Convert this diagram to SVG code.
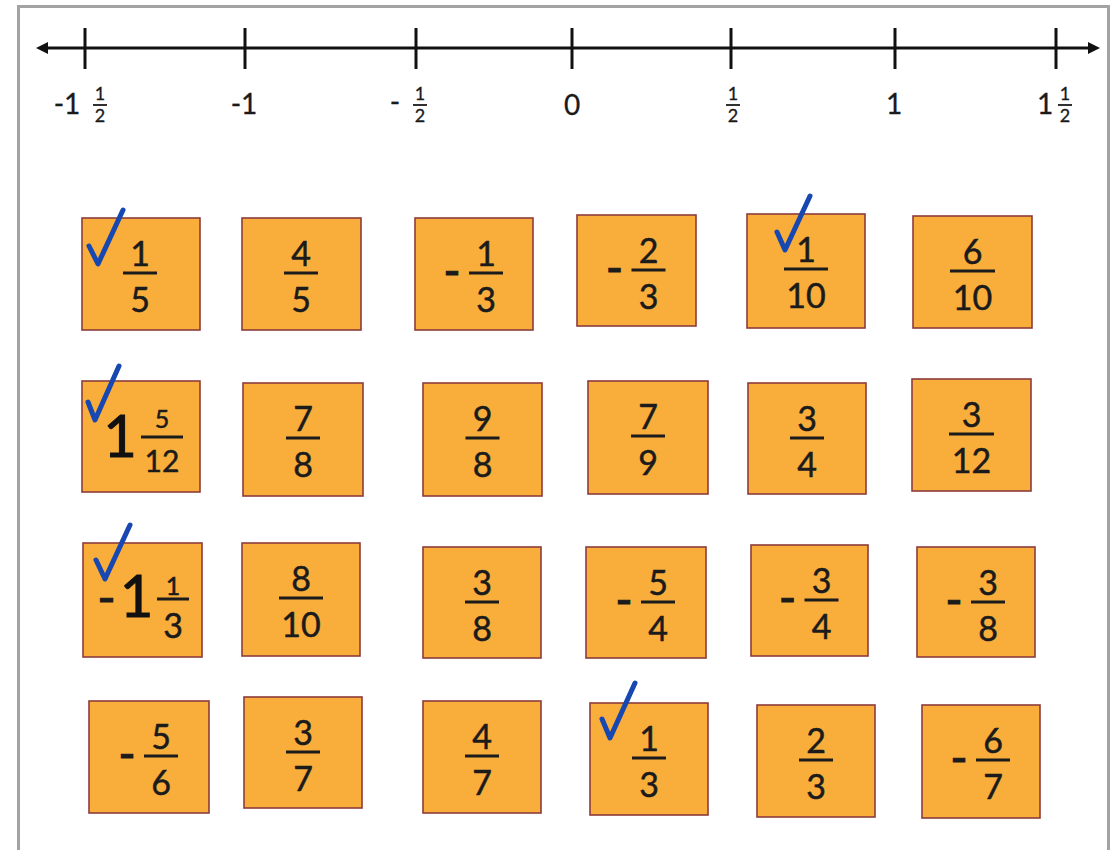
<svg xmlns="http://www.w3.org/2000/svg" width="1117" height="850" viewBox="0 0 1117 850">
<defs>
<style>
.frame{fill:#fff;stroke:#a3a3a3;stroke-width:3}
.axis{stroke:#111;stroke-width:3}
.tick{stroke:#111;stroke-width:3}
.lab{font-family:Lato,"Open Sans",sans-serif;font-size:28px;fill:#1a1a1a;text-anchor:middle;stroke:#1a1a1a;stroke-width:0.3}
.labs{font-family:Lato,"Open Sans",sans-serif;font-size:18px;fill:#1a1a1a;text-anchor:middle;stroke:#1a1a1a;stroke-width:0.3}
.lbar{stroke:#1a1a1a;stroke-width:1.8}
.card rect{fill:#F9AE3C;stroke:#8E3B3B;stroke-width:1.6}
.n{font-family:Lato,"Open Sans",sans-serif;font-size:34px;fill:#1b1b1b;text-anchor:middle;stroke:#1b1b1b;stroke-width:0.5}
.big{font-family:Lato,"Open Sans",sans-serif;font-size:58px;fill:#111;text-anchor:middle;stroke:#111;stroke-width:1}
.sm{font-family:Lato,"Open Sans",sans-serif;font-size:25px;fill:#1b1b1b;text-anchor:middle;stroke:#1b1b1b;stroke-width:0.5}
.md{font-family:Lato,"Open Sans",sans-serif;font-size:30px;fill:#1b1b1b;text-anchor:middle;stroke:#1b1b1b;stroke-width:0.5}
.minus{font-family:Lato,"Open Sans",sans-serif;font-size:34px;font-weight:900;fill:#1b1b1b;text-anchor:middle;stroke:#1b1b1b;stroke-width:1}
.bar{stroke:#1b1b1b;stroke-width:3}
.chk{fill:none;stroke:#1747B0;stroke-width:5;stroke-linecap:round;stroke-linejoin:round}
</style>
</defs>
<rect class="frame" x="18.5" y="6.5" width="1090" height="900"/>
<g id="numberline">
<line class="axis" x1="44" y1="48" x2="1092" y2="48"/>
<polygon points="36,48 48,42 48,54" fill="#111"/>
<polygon points="1100,48 1088,42 1088,54" fill="#111"/>
<line class="tick" x1="85" y1="28" x2="85" y2="69"/>
<line class="tick" x1="245" y1="28" x2="245" y2="69"/>
<line class="tick" x1="416" y1="28" x2="416" y2="69"/>
<line class="tick" x1="572" y1="28" x2="572" y2="69"/>
<line class="tick" x1="731" y1="28" x2="731" y2="69"/>
<line class="tick" x1="895" y1="28" x2="895" y2="69"/>
<line class="tick" x1="1056" y1="28" x2="1056" y2="69"/>
<text class="lab" x="67" y="114">-1</text>
<text class="labs" x="100" y="100">1</text><line class="lbar" x1="93" y1="105" x2="107" y2="105"/><text class="labs" x="100" y="122">2</text>
<text class="lab" x="244" y="114">-1</text>
<text class="lab" x="395" y="112">-</text>
<text class="labs" x="420" y="100">1</text><line class="lbar" x1="413" y1="105" x2="427" y2="105"/><text class="labs" x="420" y="122">2</text>
<text class="lab" x="572" y="115">0</text>
<text class="labs" x="733" y="100">1</text><line class="lbar" x1="726" y1="105" x2="740" y2="105"/><text class="labs" x="733" y="122">2</text>
<text class="lab" x="894" y="114">1</text>
<text class="lab" x="1045" y="114">1</text>
<text class="labs" x="1065" y="100">1</text><line class="lbar" x1="1058" y1="105" x2="1072" y2="105"/><text class="labs" x="1065" y="122">2</text>
</g>

<g id="card-1-5" class="card"><rect x="82" y="218" width="118" height="112"/><text class="n" x="140" y="266">1</text><line class="bar" x1="123" y1="273" x2="157" y2="273"/><text class="n" x="140" y="312">5</text></g>
<g id="card-4-5" class="card"><rect x="242" y="218" width="119" height="112"/><text class="n" x="301" y="266">4</text><line class="bar" x1="284" y1="273" x2="318" y2="273"/><text class="n" x="301" y="312">5</text></g>
<g id="card-neg-1-3" class="card"><rect x="415" y="218" width="118" height="112"/><text class="minus" x="452" y="283" textLength="16" lengthAdjust="spacingAndGlyphs">-</text><text class="n" x="486" y="266">1</text><line class="bar" x1="469" y1="273" x2="503" y2="273"/><text class="n" x="486" y="312">3</text></g>
<g id="card-neg-2-3" class="card"><rect x="577" y="215" width="119" height="111"/><text class="minus" x="614.5" y="280" textLength="16" lengthAdjust="spacingAndGlyphs">-</text><text class="n" x="648.5" y="263">2</text><line class="bar" x1="631.5" y1="270" x2="665.5" y2="270"/><text class="n" x="648.5" y="309">3</text></g>
<g id="card-1-10" class="card"><rect x="747" y="214" width="118" height="114"/><text class="n" x="806" y="262">1</text><line class="bar" x1="784" y1="269" x2="828" y2="269"/><text class="n" x="806" y="308">10</text></g>
<g id="card-6-10" class="card"><rect x="913" y="216" width="119" height="112"/><text class="n" x="972.5" y="264">6</text><line class="bar" x1="950" y1="271" x2="995" y2="271"/><text class="n" x="972.5" y="310">10</text></g>

<g id="card-1-5-12" class="card"><rect x="82" y="381" width="118" height="111"/><text class="big" x="120" y="457">1</text><text class="sm" x="162" y="428">5</text><line class="bar" x1="141" y1="437" x2="183" y2="437"/><text class="md" x="162" y="472">12</text></g>
<g id="card-7-8" class="card"><rect x="243" y="383" width="120" height="113"/><text class="n" x="303" y="431">7</text><line class="bar" x1="286" y1="438" x2="320" y2="438"/><text class="n" x="303" y="477">8</text></g>
<g id="card-9-8" class="card"><rect x="423" y="383" width="119" height="113"/><text class="n" x="482.5" y="431">9</text><line class="bar" x1="465.5" y1="438" x2="499.5" y2="438"/><text class="n" x="482.5" y="477">8</text></g>
<g id="card-7-9" class="card"><rect x="588" y="381" width="120" height="113"/><text class="n" x="648" y="429">7</text><line class="bar" x1="631" y1="436" x2="665" y2="436"/><text class="n" x="648" y="475">9</text></g>
<g id="card-3-4" class="card"><rect x="748" y="383" width="118" height="111"/><text class="n" x="807" y="431">3</text><line class="bar" x1="790" y1="438" x2="824" y2="438"/><text class="n" x="807" y="477">4</text></g>
<g id="card-3-12" class="card"><rect x="912" y="379" width="119" height="112"/><text class="n" x="971.5" y="427">3</text><line class="bar" x1="949" y1="434" x2="994" y2="434"/><text class="n" x="971.5" y="473">12</text></g>

<g id="card-neg-1-1-3" class="card"><rect x="83" y="543" width="119" height="114"/><text class="minus" x="106.5" y="610" textLength="17" lengthAdjust="spacingAndGlyphs">-</text><text class="big" x="136.5" y="617">1</text><text class="sm" x="173" y="595">1</text><line class="bar" x1="157" y1="599" x2="189" y2="599"/><text class="n" x="173" y="638">3</text></g>
<g id="card-8-10" class="card"><rect x="242" y="543" width="118" height="113"/><text class="n" x="301" y="591">8</text><line class="bar" x1="279" y1="598" x2="323" y2="598"/><text class="n" x="301" y="637">10</text></g>
<g id="card-3-8" class="card"><rect x="423" y="547" width="118" height="111"/><text class="n" x="482" y="595">3</text><line class="bar" x1="465" y1="602" x2="499" y2="602"/><text class="n" x="482" y="641">8</text></g>
<g id="card-neg-5-4" class="card"><rect x="586" y="547" width="120" height="111"/><text class="minus" x="624" y="612" textLength="16" lengthAdjust="spacingAndGlyphs">-</text><text class="n" x="658" y="595">5</text><line class="bar" x1="641" y1="602" x2="675" y2="602"/><text class="n" x="658" y="641">4</text></g>
<g id="card-neg-3-4" class="card"><rect x="751" y="545" width="117" height="111"/><text class="minus" x="787.5" y="610" textLength="16" lengthAdjust="spacingAndGlyphs">-</text><text class="n" x="821.5" y="593">3</text><line class="bar" x1="804.5" y1="600" x2="838.5" y2="600"/><text class="n" x="821.5" y="639">4</text></g>
<g id="card-neg-3-8" class="card"><rect x="917" y="547" width="118" height="110"/><text class="minus" x="954" y="612" textLength="16" lengthAdjust="spacingAndGlyphs">-</text><text class="n" x="988" y="595">3</text><line class="bar" x1="971" y1="602" x2="1005" y2="602"/><text class="n" x="988" y="641">8</text></g>

<g id="card-neg-5-6" class="card"><rect x="89" y="701" width="120" height="112"/><text class="minus" x="127" y="766" textLength="16" lengthAdjust="spacingAndGlyphs">-</text><text class="n" x="161" y="749">5</text><line class="bar" x1="144" y1="756" x2="178" y2="756"/><text class="n" x="161" y="795">6</text></g>
<g id="card-3-7" class="card"><rect x="244" y="697" width="118" height="111"/><text class="n" x="303" y="745">3</text><line class="bar" x1="286" y1="752" x2="320" y2="752"/><text class="n" x="303" y="791">7</text></g>
<g id="card-4-7" class="card"><rect x="423" y="701" width="118" height="112"/><text class="n" x="482" y="749">4</text><line class="bar" x1="465" y1="756" x2="499" y2="756"/><text class="n" x="482" y="795">7</text></g>
<g id="card-1-3" class="card"><rect x="590" y="703" width="118" height="112"/><text class="n" x="649" y="751">1</text><line class="bar" x1="632" y1="758" x2="666" y2="758"/><text class="n" x="649" y="797">3</text></g>
<g id="card-2-3" class="card"><rect x="757" y="705" width="118" height="112"/><text class="n" x="816" y="753">2</text><line class="bar" x1="799" y1="760" x2="833" y2="760"/><text class="n" x="816" y="799">3</text></g>
<g id="card-neg-6-7" class="card"><rect x="922" y="705" width="118" height="113"/><text class="minus" x="959" y="770" textLength="16" lengthAdjust="spacingAndGlyphs">-</text><text class="n" x="993" y="753">6</text><line class="bar" x1="976" y1="760" x2="1010" y2="760"/><text class="n" x="993" y="799">7</text></g>

<g id="checkmarks">
<path class="chk" d="M89,246 L98,264 L123,210"/>
<path class="chk" d="M777,232 L785,250 L810,196"/>
<path class="chk" d="M88,402 L95,420 L119,366"/>
<path class="chk" d="M96,560 L105,579 L130,525"/>
<path class="chk" d="M602,719 L610,738 L635,683"/>
</g>
</svg>
